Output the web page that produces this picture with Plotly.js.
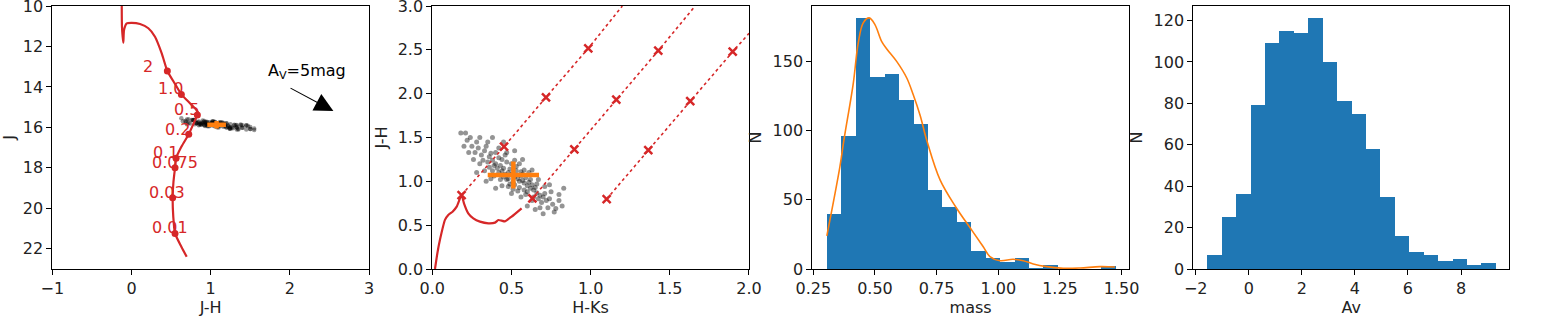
<!DOCTYPE html>
<html>
<head>
<meta charset="utf-8">
<script src="https://cdn.plot.ly/plotly-3.0.1.min.js"></script>
<style>
  body { margin: 0; background: #fff; }
  #myDiv { width: 1542px; height: 320px; }
</style>
</head>
<body>
<div id="myDiv"></div>
<script>
// ---- isochrone (panel 1: J vs J-H) ----
var isoJH = [-0.123, -0.12, -0.103, -0.094, -0.06, 0.003, 0.108, 0.213, 0.297, 0.382, 0.453, 0.55, 0.63, 0.75, 0.82, 0.845, 0.832, 0.78, 0.723, 0.63, 0.563, 0.55, 0.53, 0.52, 0.528, 0.55, 0.63, 0.697];
var isoJ  = [10.0, 11.02, 11.81, 11.19, 10.86, 10.83, 10.89, 11.1, 11.52, 12.34, 13.21, 13.85, 14.37, 14.85, 15.14, 15.3, 15.39, 15.85, 16.34, 16.96, 17.53, 17.99, 18.7, 19.48, 20.41, 21.24, 21.9, 22.39];
var massLabels = ['2', '1.0', '0.5', '0.2', '0.1', '0.075', '0.03', '0.01'];
var markJH = [0.453, 0.63, 0.832, 0.723, 0.563, 0.55, 0.52, 0.55];
var markJ  = [13.21, 14.37, 15.39, 16.34, 17.53, 17.99, 19.48, 21.24];
var labelJH = [0.213, 0.495, 0.697, 0.584, 0.432, 0.55, 0.453, 0.483];
var labelJ  = [13.0, 14.07, 15.1, 16.1, 17.23, 17.74, 19.23, 20.94];

// ---- isochrone (panel 2: J-H vs H-Ks) ----
var isoHK2 = [0.017, 0.032, 0.048, 0.08, 0.101, 0.128, 0.154, 0.185, 0.2, 0.227, 0.259, 0.301, 0.354, 0.396, 0.417, 0.438, 0.459, 0.501, 0.564];
var isoJH2 = [0.0, 0.18, 0.33, 0.56, 0.616, 0.654, 0.711, 0.844, 0.749, 0.635, 0.578, 0.54, 0.521, 0.529, 0.559, 0.551, 0.544, 0.597, 0.692];

// reddening vectors (crosses every 5 mag of Av)
var redHK = [[0.185, 0.453, 0.718, 0.985], [0.632, 0.897, 1.162, 1.427], [1.101, 1.364, 1.629, 1.897]];
var redJH = [[0.844, 1.395, 1.958, 2.517], [0.806, 1.365, 1.932, 2.49], [0.798, 1.357, 1.916, 2.479]];
var redEndHK = [1.2, 1.66, 2.0];
var redEndJH = [3.0, 3.0, 2.688];

// ---- stars ----
var starHK = [0.52,0.48,0.55,0.45,0.58,0.50,0.53,0.47,0.56,0.43,0.60,0.51,0.49,0.54,0.46,0.57,0.44,0.62,0.40,0.52,
  0.50,0.59,0.42,0.64,0.38,0.55,0.47,0.61,0.41,0.66,0.36,0.53,0.58,0.45,0.63,0.39,0.68,0.49,0.56,0.35,
  0.60,0.44,0.70,0.48,0.65,0.37,0.54,0.42,0.67,0.57,0.33,0.31,0.34,0.29,0.40,0.46,0.38,0.32,0.72,0.71,
  0.74,0.69,0.66,0.62,0.59,0.51,0.43,0.36,0.28,0.27,0.76,0.73,0.64,0.58,0.52,0.48,0.39,0.30,0.25,0.78,
  0.35,0.42,0.47,0.55,0.61,0.67,0.71,0.75,0.63,0.56,0.50,0.44,0.37,0.33,0.26,0.24,0.21,0.18,0.22,0.30,
  0.83,0.80,0.77,0.70,0.68,0.74,0.63,0.57,0.40,0.34,0.28,0.23,0.20,0.45,0.52,0.80,0.65,0.60,0.82,0.38];
var starJH = [1.05,1.10,1.00,1.15,0.98,1.08,1.12,1.02,1.06,1.18,0.95,0.99,1.14,1.03,1.08,1.01,1.12,0.92,1.20,0.96,
  1.20,1.04,1.10,0.90,1.24,0.93,1.22,0.99,1.15,0.87,1.28,1.17,0.90,1.05,0.96,1.18,0.84,0.97,1.11,1.22,
  0.88,1.25,0.82,1.03,0.93,1.32,0.89,1.27,0.80,1.08,1.35,1.30,1.40,1.38,1.33,1.30,1.12,1.24,0.78,0.86,
  0.80,0.76,0.97,1.02,0.85,0.91,1.02,1.16,1.45,1.33,0.74,0.70,0.82,1.13,1.24,0.94,1.06,1.20,1.40,0.69,
  1.45,1.38,1.33,1.20,1.10,1.02,0.94,0.88,0.78,0.82,0.86,0.95,1.03,1.12,1.25,1.50,1.55,1.55,1.47,1.50,
  0.92,0.78,0.65,0.63,0.70,0.96,1.13,1.25,0.92,1.00,1.10,1.33,1.40,1.45,1.35,0.85,0.68,0.72,0.72,1.50];
var starJ = [15.94,15.78,15.85,15.76,15.95,15.80,15.87,15.91,15.75,15.95,15.90,15.74,15.91,15.71,15.99,15.78,15.87,15.87,15.81,15.85,
  16.01,15.76,15.89,15.66,16.06,15.74,15.91,15.90,15.78,15.82,16.04,15.81,15.81,15.72,15.94,15.85,15.75,15.89,15.77,15.96,
  15.87,15.85,15.78,15.71,15.93,15.91,15.77,16.01,15.64,15.90,16.07,15.87,16.02,15.86,16.10,15.90,15.87,16.00,15.63,15.81,
  15.84,15.64,15.84,15.71,15.90,15.73,15.83,15.97,15.91,16.01,15.81,15.61,15.78,15.76,16.06,15.75,15.85,15.99,15.89,15.74,
  16.11,15.90,15.99,15.79,16.00,15.78,15.80,15.85,15.63,15.80,15.86,15.72,15.86,15.75,16.07,15.98,16.05,16.13,15.92,16.08,
  15.89,15.65,15.70,15.55,15.84,15.75,15.88,16.01,15.69,15.87,15.96,15.88,16.02,15.89,16.11,15.71,15.69,15.78,15.60,16.08];

// best fit with errors
var cmdCenter = [1.075, 15.865];
var cmdErr = [0.118, 0.185];
var ccdCenter = [0.512, 1.072];
var ccdErr = [0.162, 0.155];

// extinction arrow
var arrowFrom = [1.99, 14.02];
var arrowTo = [2.55, 15.19];
var arrowTextPos = [2.22, 13.25];

// ---- histograms ----
var massCounts = [40, 96, 181, 139, 141, 122, 105, 57, 45, 34, 13, 8, 5, 8, 1, 3, 0, 0, 0, 2];
var massRange = [0.3054, 1.4757];
var kdeX = [0.305, 0.358, 0.374, 0.412, 0.432, 0.453, 0.477, 0.500, 0.527, 0.548, 0.588, 0.629, 0.655, 0.683, 0.71, 0.764, 0.831, 0.892, 0.939, 0.966, 1.007, 1.06, 1.101, 1.142, 1.196, 1.263, 1.331, 1.412, 1.473];
var kdeY = [24, 74, 93, 134, 163, 178, 181.4, 176.5, 164.5, 159, 150, 138, 126, 111, 93, 64.4, 43.9, 28.2, 16.1, 9, 6.0, 7.0, 6.0, 3.6, 1.7, 0.5, 0.7, 1.7, 1.4];

var avCounts = [7, 25, 36, 79, 109, 115, 114, 121, 100, 81, 75, 58, 35, 16, 8, 7, 4, 5, 2, 3];
var avRange = [-1.56, 9.31];

var RED = '#d62728';
var ORANGE = '#ff7f0e';
var BLUE = '#1f77b4';
var FONT = 'DejaVu Sans, sans-serif';

function binCenters(counts, range){
  var w = (range[1] - range[0]) / counts.length;
  var c = [];
  for (var i = 0; i < counts.length; i++){
    c[i] = range[0] + (i + 0.5) * w;
  }
  return {x: c, w: w};
}

function axis(dom, range, dtick, fmt, title, anchor, standoff){
  return {
    domain: dom,
    range: range,
    anchor: anchor,
    tickmode: 'linear',
    tick0: 0,
    dtick: dtick,
    tickformat: fmt,
    ticks: 'outside',
    ticklen: 5,
    tickwidth: 1,
    tickcolor: '#000',
    ticklabeloverflow: 'allow',
    showline: true,
    mirror: true,
    linecolor: '#000',
    linewidth: 1,
    showgrid: false,
    zeroline: false,
    tickfont: {family: FONT, size: 16, color: '#222'},
    title: {text: title, font: {family: FONT, size: 16, color: '#222'}, standoff: standoff},
    automargin: false
  };
}

function plot(){
  var data = [];

  // panel 1
  data.push({x: starJH, y: starJ, xaxis: 'x', yaxis: 'y', mode: 'markers', type: 'scatter',
    marker: {color: 'rgba(0,0,0,0.4)', size: 4.5}, hoverinfo: 'none'});
  data.push({x: isoJH, y: isoJ, xaxis: 'x', yaxis: 'y', mode: 'lines', type: 'scatter',
    line: {color: RED, width: 2.2, shape: 'spline', smoothing: 0.6}});
  data.push({x: markJH, y: markJ, xaxis: 'x', yaxis: 'y', mode: 'markers', type: 'scatter',
    marker: {color: RED, size: 7}});
  data.push({x: [cmdCenter[0]], y: [cmdCenter[1]], xaxis: 'x', yaxis: 'y', mode: 'markers', type: 'scatter',
    marker: {color: ORANGE, size: 1},
    error_x: {type: 'constant', value: cmdErr[0], thickness: 4.5, width: 0, color: ORANGE},
    error_y: {type: 'constant', value: cmdErr[1], thickness: 4.5, width: 0, color: ORANGE}});

  // panel 2
  data.push({x: starHK, y: starJH, xaxis: 'x2', yaxis: 'y2', mode: 'markers', type: 'scatter',
    marker: {color: 'rgba(0,0,0,0.42)', size: 5}, hoverinfo: 'none'});
  data.push({x: isoHK2, y: isoJH2, xaxis: 'x2', yaxis: 'y2', mode: 'lines', type: 'scatter',
    line: {color: RED, width: 2.2, shape: 'spline', smoothing: 0.5}});
  for (var k = 0; k < redHK.length; k++){
    data.push({x: redHK[k].concat([redEndHK[k]]), y: redJH[k].concat([redEndJH[k]]), xaxis: 'x2', yaxis: 'y2',
      mode: 'lines', type: 'scatter', line: {color: RED, width: 1.6, dash: 'dot'}});
    data.push({x: redHK[k], y: redJH[k], xaxis: 'x2', yaxis: 'y2', mode: 'markers', type: 'scatter',
      marker: {symbol: 'x-thin-open', color: RED, size: 8, line: {color: RED, width: 2.5}}});
  }
  data.push({x: [ccdCenter[0]], y: [ccdCenter[1]], xaxis: 'x2', yaxis: 'y2', mode: 'markers', type: 'scatter',
    marker: {color: ORANGE, size: 1},
    error_x: {type: 'constant', value: ccdErr[0], thickness: 4.5, width: 0, color: ORANGE},
    error_y: {type: 'constant', value: ccdErr[1], thickness: 4.5, width: 0, color: ORANGE}});

  // panel 3
  var mb = binCenters(massCounts, massRange);
  data.push({x: mb.x, y: massCounts, width: mb.w, xaxis: 'x3', yaxis: 'y3', type: 'bar',
    marker: {color: BLUE, line: {width: 0}}});
  data.push({x: kdeX, y: kdeY, xaxis: 'x3', yaxis: 'y3', mode: 'lines', type: 'scatter',
    line: {color: ORANGE, width: 1.6, shape: 'spline', smoothing: 1}});

  // panel 4
  var ab = binCenters(avCounts, avRange);
  data.push({x: ab.x, y: avCounts, width: ab.w, xaxis: 'x4', yaxis: 'y4', type: 'bar',
    marker: {color: BLUE, line: {width: 0}}});

  var ann = [];
  for (var i = 0; i < massLabels.length; i++){
    ann.push({x: labelJH[i], y: labelJ[i], xref: 'x', yref: 'y', text: massLabels[i], showarrow: false,
      xanchor: 'center', yanchor: 'middle', font: {family: FONT, size: 16, color: RED}});
  }
  ann.push({x: arrowTo[0], y: arrowTo[1], ax: arrowFrom[0], ay: arrowFrom[1], xref: 'x', yref: 'y',
    axref: 'x', ayref: 'y', text: '', showarrow: true, arrowhead: 2, arrowsize: 3.4, arrowwidth: 1.1,
    arrowcolor: '#000', standoff: 0});
  ann.push({x: arrowTextPos[0], y: arrowTextPos[1], xref: 'x', yref: 'y', text: 'A<sub>V</sub>=5mag',
    showarrow: false, xanchor: 'center', yanchor: 'middle', font: {family: FONT, size: 16, color: '#000'}});

  var layout = {
    width: 1542,
    height: 320,
    margin: {l: 0, r: 0, t: 0, b: 0, pad: 0},
    showlegend: false,
    paper_bgcolor: '#fff',
    plot_bgcolor: '#fff',
    bargap: 0,
    annotations: ann,
    xaxis: axis([0.03392, 0.2393], [-1, 3], 1, 'd', 'J-H', 'y', 4),
    yaxis: axis([0.159375, 0.98125], [23, 9.9999], 2, 'd', 'J', 'x', 6),
    xaxis2: axis([0.28035, 0.48573], [0, 2], 0.5, '.1f', 'H-Ks', 'y2', 4),
    yaxis2: axis([0.159375, 0.98125], [0, 3.0001], 0.5, '.1f', 'J-H', 'x2', 6),
    xaxis3: axis([0.52678, 0.73217], [0.246, 1.53], 0.25, '.2f', 'mass', 'y3', 4),
    yaxis3: axis([0.159375, 0.98125], [0, 190], 50, 'd', 'N', 'x3', 6),
    xaxis4: axis([0.77387, 0.9788], [-2.09, 9.82], 2, 'd', 'Av', 'y4', 4),
    yaxis4: axis([0.159375, 0.98125], [0, 127], 20, 'd', 'N', 'x4', 6)
  };

  Plotly.newPlot('myDiv', data, layout, {staticPlot: true});
}

plot();
</script>
</body>
</html>
